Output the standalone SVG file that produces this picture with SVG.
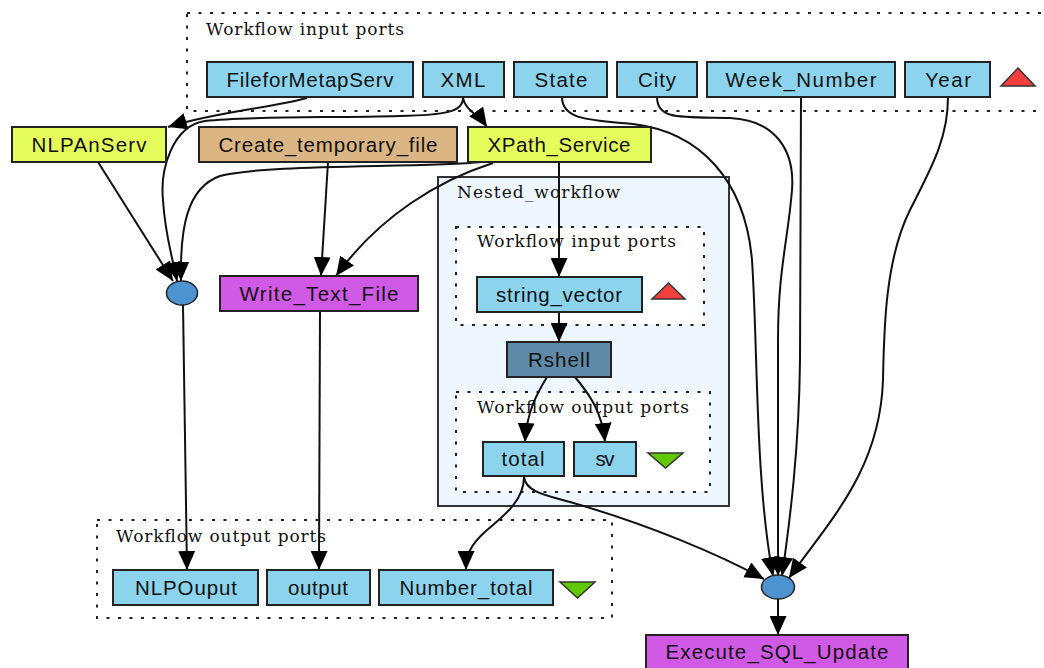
<svg xmlns="http://www.w3.org/2000/svg" width="1044" height="668" viewBox="0 0 1044 668">
  <style>
    .port { fill: #8cd4ee; stroke: #222; stroke-width: 2; }
    .svc { fill: #e4fd5b; stroke: #222; stroke-width: 2; }
    .tmp { fill: #dcb584; stroke: #222; stroke-width: 2; }
    .beanshell { fill: #d05ae6; stroke: #222; stroke-width: 2; }
    .rshell { fill: #5e8aa7; stroke: #222; stroke-width: 2; }
    .merge { fill: #4d93cf; stroke: #222; stroke-width: 1.5; }
    .cluster { fill: none; stroke: #222; stroke-width: 2; stroke-dasharray: 3 8.5; }
    .nested { fill: #eef6ff; stroke: #333; stroke-width: 2; }
    .lbl { font-family: "Liberation Sans", Arial, sans-serif; font-size: 20.5px; fill: #111; text-anchor: middle; }
    .clbl { font-family: "DejaVu Serif", "Liberation Serif", serif; font-size: 17px; fill: #111; }
    .edge { fill: none; stroke: #111; stroke-width: 2; marker-end: url(#arrow); }
    .up { fill: #f43f3f; stroke: #333; stroke-width: 1.5; }
    .down { fill: #5fc800; stroke: #333; stroke-width: 1.5; }
  </style>
  <defs>
    <marker id="arrow" viewBox="0 0 19 17" markerWidth="19" markerHeight="17" refX="19" refY="8.5" orient="auto" markerUnits="userSpaceOnUse">
      <path d="M0,0 L19,8.5 L0,17 z" fill="#000"/>
    </marker>
  </defs>

  <rect width="1044" height="668" fill="#fff"/>

  <!-- clusters -->
  <g id="cluster_inputs">
    <rect class="cluster" x="187" y="13" width="870" height="98"/>
    <text class="clbl" x="206" y="35" textLength="198" lengthAdjust="spacing">Workflow input ports</text>
    <polygon class="up" points="1018,68 1035,86 1001,86"/>
  </g>
  <g id="cluster_outputs">
    <rect class="cluster" x="97" y="520" width="515" height="98"/>
    <text class="clbl" x="116" y="542" textLength="210" lengthAdjust="spacing">Workflow output ports</text>
    <polygon class="down" points="560,582 595,582 577.5,598"/>
  </g>
  <g id="Nested_workflow">
    <rect class="nested" x="438" y="177" width="291" height="329"/>
    <text class="clbl" x="457" y="198" textLength="163" lengthAdjust="spacing">Nested_workflow</text>
    <rect x="457" y="228" width="246" height="96" fill="#fff"/>
    <rect class="cluster" x="456" y="227" width="248" height="98"/>
    <text class="clbl" x="477" y="247" textLength="199" lengthAdjust="spacing">Workflow input ports</text>
    <polygon class="up" points="668.5,283 685,299 652,299"/>
    <rect x="457" y="393" width="252" height="98" fill="#fff"/>
    <rect class="cluster" x="456" y="392" width="254" height="100"/>
    <text class="clbl" x="477" y="413" textLength="212" lengthAdjust="spacing">Workflow output ports</text>
    <polygon class="down" points="648,453 683,453 665.5,468"/>
  </g>

  <!-- connectors -->
  <g id="connectors">
    <path class="edge" d="M307,98 C270,108 215,112 168,127"/>
    <path class="edge" d="M463,98 C463,112 445,115 400,116 C330,118 250,116 205,121 C172,126 160,170 163,200 C165,235 172,255 177,281"/>
    <path class="edge" d="M463,98 C465,110 478,114 487,127"/>
    <path class="edge" d="M98,162 L173,281"/>
    <path class="edge" d="M482,162 C420,168 262,164 220,176 C186,188 180,230 181,281"/>
    <path class="edge" d="M328,162 L321,276"/>
    <path class="edge" d="M493,163 C440,180 380,215 336,276"/>
    <path class="edge" d="M559,162 L559,277"/>
    <path class="edge" d="M559,312 L559,342"/>
    <path class="edge" d="M547,377 C538,392 527,410 525,442"/>
    <path class="edge" d="M575,377 C590,395 602,412 605,442"/>
    <path class="edge" d="M524,477 C524,500 505,515 487,530 C470,545 466,555 466,570"/>
    <path class="edge" d="M524,477 C526,492 545,495 570,502 C650,525 720,555 764,579"/>
    <path class="edge" d="M562,97 C562,120 590,120 633,124 C700,132 745,180 752,260 C758,350 755,480 773,576"/>
    <path class="edge" d="M657,97 C657,120 680,117 730,118 C775,120 795,150 792,190 C788,240 778,270 778,340 L778,576"/>
    <path class="edge" d="M801,97 L800,360 C799,450 790,520 782,576"/>
    <path class="edge" d="M948,97 C948,140 930,170 910,210 C885,260 884,330 883,380 C880,470 830,520 789,578"/>
    <path class="edge" d="M183,305 L187,570"/>
    <path class="edge" d="M320,311 L319,570"/>
    <path class="edge" d="M778,599 L778,635"/>
  </g>

  <!-- input ports -->
  <g id="FileforMetapServ"><rect class="port" x="207" y="62" width="206" height="35"/><text class="lbl" x="310" y="87" textLength="167" lengthAdjust="spacing">FileforMetapServ</text></g>
  <g id="XML"><rect class="port" x="423" y="62" width="81" height="35"/><text class="lbl" x="463" y="87" textLength="45" lengthAdjust="spacing">XML</text></g>
  <g id="State"><rect class="port" x="514" y="62" width="93" height="35"/><text class="lbl" x="561" y="87" textLength="53" lengthAdjust="spacing">State</text></g>
  <g id="City"><rect class="port" x="617" y="62" width="80" height="35"/><text class="lbl" x="657" y="87" textLength="38" lengthAdjust="spacing">City</text></g>
  <g id="Week_Number"><rect class="port" x="707" y="62" width="188" height="35"/><text class="lbl" x="801" y="87" textLength="151" lengthAdjust="spacing">Week_Number</text></g>
  <g id="Year"><rect class="port" x="905" y="62" width="85" height="35"/><text class="lbl" x="948" y="87" textLength="46" lengthAdjust="spacing">Year</text></g>

  <!-- processors -->
  <g id="NLPAnServ"><rect class="svc" x="12" y="127" width="154" height="35"/><text class="lbl" x="89" y="152" textLength="115" lengthAdjust="spacing">NLPAnServ</text></g>
  <g id="Create_temporary_file"><rect class="tmp" x="199" y="127" width="258" height="35"/><text class="lbl" x="328" y="152" textLength="219" lengthAdjust="spacing">Create_temporary_file</text></g>
  <g id="XPath_Service"><rect class="svc" x="468" y="127" width="183" height="35"/><text class="lbl" x="559" y="152" textLength="143" lengthAdjust="spacing">XPath_Service</text></g>
  <g id="merge_left"><ellipse class="merge" cx="182" cy="293" rx="15.5" ry="12"/></g>
  <g id="Write_Text_File"><rect class="beanshell" x="220" y="276" width="198" height="35"/><text class="lbl" x="319" y="301" textLength="159" lengthAdjust="spacing">Write_Text_File</text></g>
  <g id="string_vector"><rect class="port" x="477" y="277" width="165" height="35"/><text class="lbl" x="559" y="302" textLength="126" lengthAdjust="spacing">string_vector</text></g>
  <g id="Rshell"><rect class="rshell" x="507" y="342" width="104" height="35"/><text class="lbl" x="559" y="367" textLength="62" lengthAdjust="spacing">Rshell</text></g>
  <g id="total"><rect class="port" x="483" y="442" width="81" height="34"/><text class="lbl" x="523" y="466" textLength="43" lengthAdjust="spacing">total</text></g>
  <g id="sv"><rect class="port" x="574" y="442" width="62" height="34"/><text class="lbl" x="605" y="466" textLength="19" lengthAdjust="spacing">sv</text></g>
  <g id="merge_right"><ellipse class="merge" cx="778" cy="587" rx="16.5" ry="12"/></g>
  <g id="Execute_SQL_Update"><rect class="beanshell" x="646" y="635" width="262" height="38"/><text class="lbl" x="777" y="659" textLength="223" lengthAdjust="spacing">Execute_SQL_Update</text></g>

  <!-- output ports -->
  <g id="NLPOuput"><rect class="port" x="113" y="570" width="145" height="35"/><text class="lbl" x="186" y="595" textLength="102" lengthAdjust="spacing">NLPOuput</text></g>
  <g id="output"><rect class="port" x="267" y="570" width="103" height="35"/><text class="lbl" x="318" y="595" textLength="60" lengthAdjust="spacing">output</text></g>
  <g id="Number_total"><rect class="port" x="379" y="570" width="174" height="35"/><text class="lbl" x="466" y="595" textLength="133" lengthAdjust="spacing">Number_total</text></g>
</svg>
